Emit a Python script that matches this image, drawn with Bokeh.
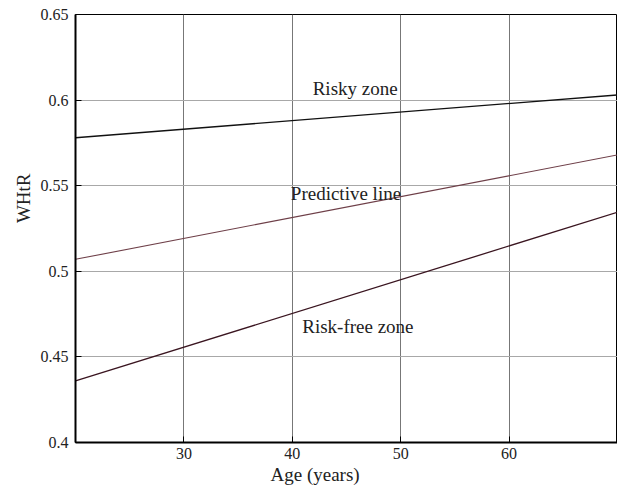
from bokeh.plotting import figure
from bokeh.models import FixedTicker, Range1d, ColumnDataSource, Title
from bokeh.core.properties import value
from bokeh.embed import file_html
from bokeh.resources import INLINE

# data
ages = [20, 70]
risky_line = [0.578, 0.603]
predictive_line = [0.507, 0.568]
riskfree_line = [0.436, 0.5345]

zone_labels = ["Risky zone", "Predictive line", "Risk-free zone"]
zone_x = [45.8, 44.95, 46.05]
zone_y = [0.6068, 0.5455, 0.4678]

x_ticks = [30, 40, 50, 60]
y_ticks = [0.4, 0.45, 0.5, 0.55, 0.6, 0.65]
y_tick_labels = ["0.4", "0.45", "0.5", "0.55", "0.6", "0.65"]

FONT = "Liberation Serif"

p = figure(width=617, height=485, output_backend="svg", toolbar_location=None,
           x_range=Range1d(20, 70), y_range=Range1d(0.4, 0.65),
           min_border_left=75, min_border_right=0, min_border_top=14, min_border_bottom=43)
p.background_fill_color = "white"
p.border_fill_color = "white"
p.outline_line_color = "black"
p.outline_line_width = 1

# grids
p.xgrid.ticker = FixedTicker(ticks=x_ticks)
p.ygrid.ticker = FixedTicker(ticks=y_ticks)
p.xgrid.grid_line_color = "#777777"
p.ygrid.grid_line_color = "#a8a8a8"
p.xgrid.grid_line_width = 1
p.ygrid.grid_line_width = 1

# axes
for ax in (p.xaxis[0], p.yaxis[0]):
    ax.axis_line_color = "black"
    ax.axis_line_width = 2
    ax.major_tick_in = 6
    ax.major_tick_out = 0
    ax.major_tick_line_color = "black"
    ax.minor_tick_line_color = None
    ax.major_label_text_font = FONT
    ax.major_label_text_font_size = "16px"
    ax.major_label_text_color = "#222222"
p.xaxis.ticker = FixedTicker(ticks=x_ticks)
p.yaxis.ticker = FixedTicker(ticks=y_ticks)
p.yaxis.major_label_overrides = {t: s for t, s in zip(y_ticks, y_tick_labels)}
p.xaxis.major_label_standoff = 5
p.yaxis.major_label_standoff = 7

# lines
p.line(ages, risky_line, line_color="#111111", line_width=1.3)
p.line(ages, predictive_line, line_color="#6e3f48", line_width=1.1)
p.line(ages, riskfree_line, line_color="#3a1520", line_width=1.3)

# zone texts
src = ColumnDataSource(dict(x=zone_x, y=zone_y, t=zone_labels))
p.text(x="x", y="y", text="t", source=src, text_font=value(FONT), text_font_size="19px",
       text_align="center", text_baseline="middle", text_color="#222222")

# axis titles
p.add_layout(Title(text="Age (years)", align="left", offset=195, standoff=0,
                   text_font=FONT, text_font_size="19px", text_font_style="normal",
                   text_color="#222222"), "below")
p.add_layout(Title(text="WHtR", align="right", offset=159, standoff=7,
                   text_font=FONT, text_font_size="19px", text_font_style="normal",
                   text_color="#222222"), "left")

open("out.html", "w").write(file_html(p, INLINE))
